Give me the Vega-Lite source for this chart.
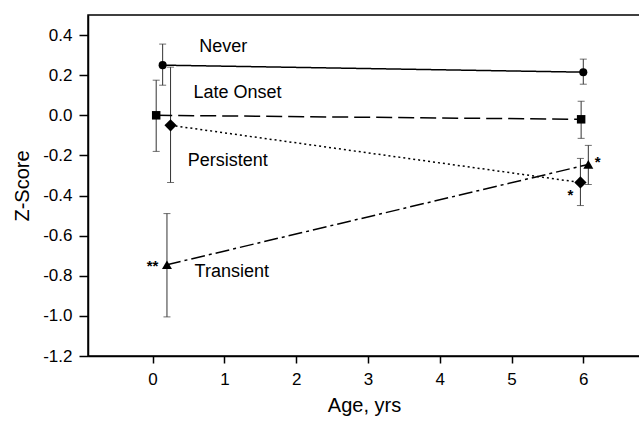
{
  "$schema": "https://vega.github.io/schema/vega-lite/v6.json",
  "autosize": {"type": "none"},
  "width": 552,
  "height": 341,
  "padding": {"left": 88, "top": 15, "right": 0, "bottom": 66},
  "background": "white",
  "config": {
    "font": "Liberation Sans",
    "view": {"stroke": "black", "strokeWidth": 1.5},
    "axis": {"domainColor": "black", "domainWidth": 1.5, "tickColor": "black", "tickWidth": 1.5, "labelColor": "black", "titleColor": "black", "grid": false, "labelFont": "Liberation Sans", "titleFont": "Liberation Sans", "titleFontWeight": "normal"}
  },
  "datasets": {
    "pts": [
      {"group": "Never", "age": 0.14, "z": 0.25, "lo": 0.15, "hi": 0.355},
      {"group": "Never", "age": 6.0, "z": 0.215, "lo": 0.155, "hi": 0.28},
      {"group": "Late Onset", "age": 0.05, "z": 0.0, "lo": -0.18, "hi": 0.175},
      {"group": "Late Onset", "age": 5.97, "z": -0.02, "lo": -0.115, "hi": 0.07},
      {"group": "Persistent", "age": 0.25, "z": -0.05, "lo": -0.335, "hi": 0.24},
      {"group": "Persistent", "age": 5.96, "z": -0.335, "lo": -0.45, "hi": -0.215},
      {"group": "Transient", "age": 0.2, "z": -0.745, "lo": -1.005, "hi": -0.49},
      {"group": "Transient", "age": 6.07, "z": -0.245, "lo": -0.345, "hi": -0.15}
    ],
    "labels": [
      {"age": 0.65, "z": 0.34, "text": "Never"},
      {"age": 0.57, "z": 0.11, "text": "Late Onset"},
      {"age": 0.49, "z": -0.23, "text": "Persistent"},
      {"age": 0.585, "z": -0.78, "text": "Transient"}
    ],
    "stars": [
      {"age": 0.0, "z": -0.75, "text": "**"},
      {"age": 5.82, "z": -0.395, "text": "*"},
      {"age": 6.2, "z": -0.235, "text": "*"}
    ]
  },
  "layer": [
    {
      "data": {"name": "pts"},
      "mark": {"type": "rule", "color": "#333", "strokeWidth": 1},
      "encoding": {
        "x": {"field": "age", "type": "quantitative", "scale": {"domain": [-0.9, 6.79], "nice": false, "zero": false},
              "axis": {"values": [0,1,2,3,4,5,6], "format": "d", "title": "Age, yrs", "titleFontSize": 20, "labelFontSize": 17, "tickSize": 7, "labelPadding": 8, "titlePadding": 8}},
        "y": {"field": "lo", "type": "quantitative", "scale": {"domain": [-1.2, 0.5], "nice": false, "zero": false},
              "axis": {"values": [-1.2,-1.0,-0.8,-0.6,-0.4,-0.2,0.0,0.2,0.4], "labelExpr": "replace(format(datum.value, '.1f'), '\u2212', '-')", "title": "Z-Score", "titleFontSize": 20, "labelFontSize": 17, "tickSize": 9, "labelPadding": 7, "titlePadding": 10}},
        "y2": {"field": "hi"}
      }
    },
    {
      "data": {"name": "pts"},
      "mark": {"type": "tick", "orient": "horizontal", "color": "#333", "size": 7, "thickness": 1},
      "encoding": {
        "x": {"field": "age", "type": "quantitative"},
        "y": {"field": "lo", "type": "quantitative"}
      }
    },
    {
      "data": {"name": "pts"},
      "mark": {"type": "tick", "orient": "horizontal", "color": "#333", "size": 7, "thickness": 1},
      "encoding": {
        "x": {"field": "age", "type": "quantitative"},
        "y": {"field": "hi", "type": "quantitative"}
      }
    },
    {
      "data": {"name": "pts"},
      "mark": {"type": "line", "color": "black", "strokeWidth": 1.5},
      "encoding": {
        "x": {"field": "age", "type": "quantitative"},
        "y": {"field": "z", "type": "quantitative"},
        "detail": {"field": "group"},
        "strokeDash": {"field": "group", "type": "nominal", "legend": null,
          "scale": {"domain": ["Never", "Late Onset", "Persistent", "Transient"], "range": [[1, 0], [16, 6], [2, 3], [14, 4, 3, 4]]}}
      }
    },
    {
      "data": {"name": "pts"},
      "transform": [{"filter": "datum.group === 'Never'"}],
      "mark": {"type": "point", "shape": "circle", "filled": true, "color": "black", "opacity": 1, "size": 65},
      "encoding": {
        "x": {"field": "age", "type": "quantitative"},
        "y": {"field": "z", "type": "quantitative"}
      }
    },
    {
      "data": {"name": "pts"},
      "transform": [{"filter": "datum.group === 'Late Onset'"}],
      "mark": {"type": "point", "shape": "square", "filled": true, "color": "black", "opacity": 1, "size": 72},
      "encoding": {
        "x": {"field": "age", "type": "quantitative"},
        "y": {"field": "z", "type": "quantitative"}
      }
    },
    {
      "data": {"name": "pts"},
      "transform": [{"filter": "datum.group === 'Persistent'"}],
      "mark": {"type": "point", "shape": "diamond", "filled": true, "color": "black", "opacity": 1, "size": 150},
      "encoding": {
        "x": {"field": "age", "type": "quantitative"},
        "y": {"field": "z", "type": "quantitative"}
      }
    },
    {
      "data": {"name": "pts"},
      "transform": [{"filter": "datum.group === 'Transient'"}],
      "mark": {"type": "point", "shape": "triangle-up", "filled": true, "color": "black", "opacity": 1, "size": 100},
      "encoding": {
        "x": {"field": "age", "type": "quantitative"},
        "y": {"field": "z", "type": "quantitative"}
      }
    },
    {
      "data": {"name": "labels"},
      "mark": {"type": "text", "align": "left", "baseline": "middle", "fontSize": 18, "color": "black"},
      "encoding": {
        "x": {"field": "age", "type": "quantitative"},
        "y": {"field": "z", "type": "quantitative"},
        "text": {"field": "text"}
      }
    },
    {
      "data": {"name": "stars"},
      "mark": {"type": "text", "align": "center", "baseline": "middle", "fontSize": 15, "fontWeight": "bold", "color": "black"},
      "encoding": {
        "x": {"field": "age", "type": "quantitative"},
        "y": {"field": "z", "type": "quantitative"},
        "text": {"field": "text"}
      }
    }
  ]
}
